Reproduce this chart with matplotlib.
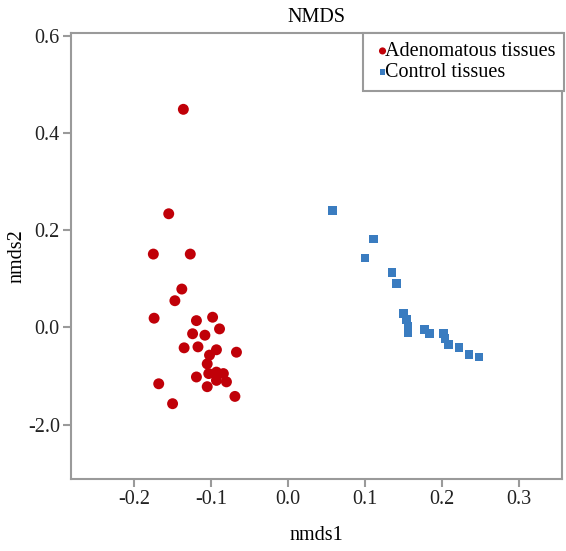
import numpy as np
import matplotlib.pyplot as plt

plt.rcParams['font.family'] = ['Liberation Serif', 'DejaVu Serif']

# Adenomatous tissues (red circles)
adeno_x = [-0.136, -0.155, -0.175, -0.127, -0.138, -0.147, -0.174, -0.119, -0.098,
           -0.089, -0.124, -0.108, -0.135, -0.117, -0.093, -0.102, -0.067, -0.105,
           -0.119, -0.103, -0.093, -0.084, -0.080, -0.105, -0.093, -0.168, -0.069,
           -0.150]
adeno_y = [0.449, 0.234, 0.151, 0.151, 0.079, 0.055, 0.019, 0.014, 0.021,
           -0.003, -0.013, -0.016, -0.042, -0.040, -0.046, -0.057, -0.051, -0.075,
           -0.102, -0.095, -0.092, -0.095, -0.112, -0.122, -0.109, -0.116, -0.142,
           -0.157]

# Control tissues (blue squares)
ctrl_x = [0.058, 0.111, 0.100, 0.135, 0.141, 0.150, 0.154, 0.156, 0.156,
          0.177, 0.184, 0.202, 0.204, 0.208, 0.222, 0.235, 0.248]
ctrl_y = [0.240, 0.182, 0.143, 0.113, 0.090, 0.029, 0.016, 0.002, -0.010,
          -0.005, -0.013, -0.012, -0.023, -0.035, -0.042, -0.055, -0.061]

xticks = [-0.2, -0.1, 0.0, 0.1, 0.2, 0.3]
xtick_labels = ['-0.2', '-0.1', '0.0', '0.1', '0.2', '0.3']
yticks = [0.6, 0.4, 0.2, 0.0, -0.2]
ytick_labels = ['0.6', '0.4', '0.2', '0.0', '-2.0']

fs = 14.5

fig = plt.figure(figsize=(5.66, 5.51), dpi=100)
ax = fig.add_axes([0.1254, 0.1307, 0.8676, 0.8093])

ax.scatter(adeno_x, adeno_y, s=62, marker='o', color='#c00008', edgecolors='none',
           label='Adenomatous tissues', zorder=3)
ax.scatter(ctrl_x, ctrl_y, s=40, marker='s', color='#3a7cc0', edgecolors='none',
           label='Control tissues', zorder=3)

ax.set_xlim(-0.282, 0.356)
ax.set_ylim(-0.312, 0.606)
ax.set_xticks(xticks)
ax.set_xticklabels(xtick_labels)
ax.set_yticks(yticks)
ax.set_yticklabels(ytick_labels)

for sp in ax.spines.values():
    sp.set_color('#9a9a9a')
    sp.set_linewidth(1.5)
ax.tick_params(colors='#9a9a9a', labelcolor='#222222', labelsize=fs, width=1.5,
               length=6, pad=2)

ax.set_title('NMDS', fontsize=fs, pad=8)
ax.set_xlabel('nmds1', fontsize=fs, labelpad=12)
ax.set_ylabel('nmds2', fontsize=fs, labelpad=1)

leg = ax.legend(loc='upper right', fontsize=fs, markerscale=0.65, handletextpad=-0.38,
                handlelength=1.0, borderpad=0.45, labelspacing=0.1, fancybox=False,
                framealpha=1, borderaxespad=0, bbox_to_anchor=(1.005, 1.0))
leg.get_frame().set_edgecolor('#9a9a9a')
leg.get_frame().set_linewidth(1.5)

fig.savefig('out.png', dpi=100)
